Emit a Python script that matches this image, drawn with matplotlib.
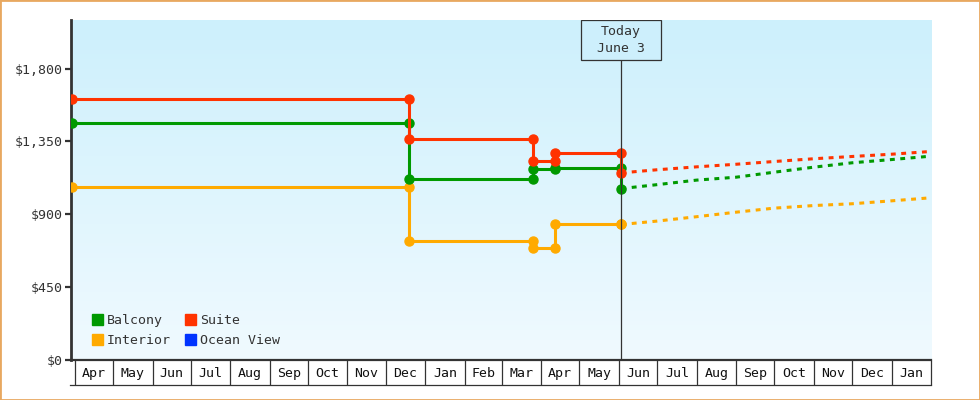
import datetime as dt
import numpy as np
import matplotlib
matplotlib.use("Agg")
import matplotlib.pyplot as plt
import matplotlib.dates as mdates
import matplotlib.transforms as mtransforms
from matplotlib.patches import Patch, Rectangle
from matplotlib.ticker import FuncFormatter

# price history (change points) - value after each change
hist_dates = ["2023-03-30", "2023-12-19", "2024-03-26", "2024-04-12", "2024-06-03"]
balcony = [1462, 1115, 1177, 1187, 1059]
suite = [1613, 1366, 1232, 1277, 1156]
interior = [1067, 737, 691, 837, 837]

# projected prices after today
proj_dates = ["2024-06-03", "2024-07-01", "2024-08-01", "2024-09-01", "2024-10-01",
              "2024-11-01", "2024-12-01", "2025-01-01", "2025-02-01"]
balcony_proj = [1059, 1083, 1111, 1129, 1160, 1191, 1218, 1238, 1259]
suite_proj = [1156, 1175, 1193, 1209, 1226, 1243, 1257, 1271, 1288]
interior_proj = [837, 858, 885, 913, 938, 954, 965, 983, 1002]

today = "2024-06-03"
months = ["Apr", "May", "Jun", "Jul", "Aug", "Sep", "Oct", "Nov", "Dec", "Jan", "Feb",
          "Mar", "Apr", "May", "Jun", "Jul", "Aug", "Sep", "Oct", "Nov", "Dec", "Jan"]
yticks = [0, 450, 900, 1350, 1800]

colors = {"Balcony": "#009900", "Interior": "#ffaa00", "Suite": "#ff3300", "Ocean View": "#0033ff"}
dark = "#333333"
plt.rcParams["font.family"] = ["DejaVu Sans Mono"]

def d(s):
    return dt.datetime.strptime(s, "%Y-%m-%d")

def step_points(dates, vals):
    xs, ys = [dates[0]], [vals[0]]
    for i in range(1, len(dates)):
        xs += [dates[i], dates[i]]
        ys += [vals[i - 1], vals[i]]
    return xs, ys

fig = plt.figure(figsize=(9.8, 4), dpi=100)
ax = fig.add_axes([71 / 980, 40 / 400, 860 / 980, 340 / 400])

# background gradient
top = np.array([205, 240, 252]) / 255
bot = np.array([240, 250, 255]) / 255
t = np.linspace(0, 1, 200)[:, None, None]
grad = top * (1 - t) + bot * t
ax.imshow(grad, extent=[0, 1, 0, 1], transform=ax.transAxes, aspect="auto", zorder=0)

hd = [d(s) for s in hist_dates]
pd_ = [d(s) for s in proj_dates]
for name, hv, pv in [("Interior", interior, interior_proj),
                     ("Balcony", balcony, balcony_proj),
                     ("Suite", suite, suite_proj)]:
    xs, ys = step_points(hd, hv)
    ax.plot(xs, ys, color=colors[name], lw=2.2, marker="o", ms=6.5, zorder=3)
    ax.plot(pd_, pv, color=colors[name], lw=2.2, dashes=(1.6, 1.8), zorder=3)

# today line + box
td = mdates.date2num(d(today))
box_bottom = (360 - 60) / 340
blend = mtransforms.blended_transform_factory(ax.transData, ax.transAxes)
ax.plot([td, td], [0, box_bottom], transform=blend, color=dark, lw=0.9, zorder=4)
ax.add_patch(Rectangle((td - 32, box_bottom), 63, 1 - box_bottom, transform=blend,
                       fc="#cdeffc", ec=dark, lw=0.9, zorder=5))
ax.text(td - 0.5, (1 + box_bottom) / 2, "Today\nJune 3", transform=blend, ha="center", va="center",
        fontsize=9.5, color=dark, linespacing=1.35, zorder=6)

ax.set_xlim(d("2023-03-29"), d("2025-02-01"))
ax.set_ylim(0, 2100)

# y axis
ax.set_yticks(yticks)
ax.yaxis.set_major_formatter(FuncFormatter(lambda v, p: "${:,.0f}".format(v)))
ax.tick_params(axis="y", direction="out", length=4, width=1.6, color=dark, labelsize=9.5,
               labelcolor=dark, pad=2)

# month boxes under x axis
starts = [dt.datetime(2023 + (3 + i) // 12, (3 + i) % 12 + 1, 1) for i in range(len(months) + 1)]
mids = [starts[i] + (starts[i + 1] - starts[i]) / 2 for i in range(len(months))]
ax.set_xticks(starts)
ax.set_xticklabels([""] * len(starts))
ax.set_xticks(mids, minor=True)
ax.set_xticklabels(months, minor=True)
ax.tick_params(axis="x", which="major", direction="out", length=18, width=0.9, color=dark)
ax.tick_params(axis="x", which="minor", length=0, pad=5, labelsize=9.5, labelcolor="#111111")
ax.plot([-0.001, 1], [-25 / 340, -25 / 340], transform=ax.transAxes, color=dark, lw=0.9, clip_on=False)

for s in ["top", "right"]:
    ax.spines[s].set_visible(False)
ax.spines["left"].set_linewidth(2)
ax.spines["left"].set_color(dark)
ax.spines["bottom"].set_linewidth(1.6)
ax.spines["bottom"].set_color(dark)

# legend
handles = [Patch(color=colors[n], label=n) for n in ["Balcony", "Interior", "Suite", "Ocean View"]]
ax.legend(handles=handles, ncol=2, loc="lower left", bbox_to_anchor=(0.017, 0.018), frameon=False,
          fontsize=9.5, handlelength=0.85, handleheight=0.85, handletextpad=0.25,
          labelspacing=0.55, columnspacing=1.1, borderpad=0, labelcolor=dark)

fig.patches.append(Rectangle((0, 0), 1, 1, transform=fig.transFigure, fill=False,
                             ec="#e8a860", lw=2))
fig.savefig("out.png", dpi=100)
